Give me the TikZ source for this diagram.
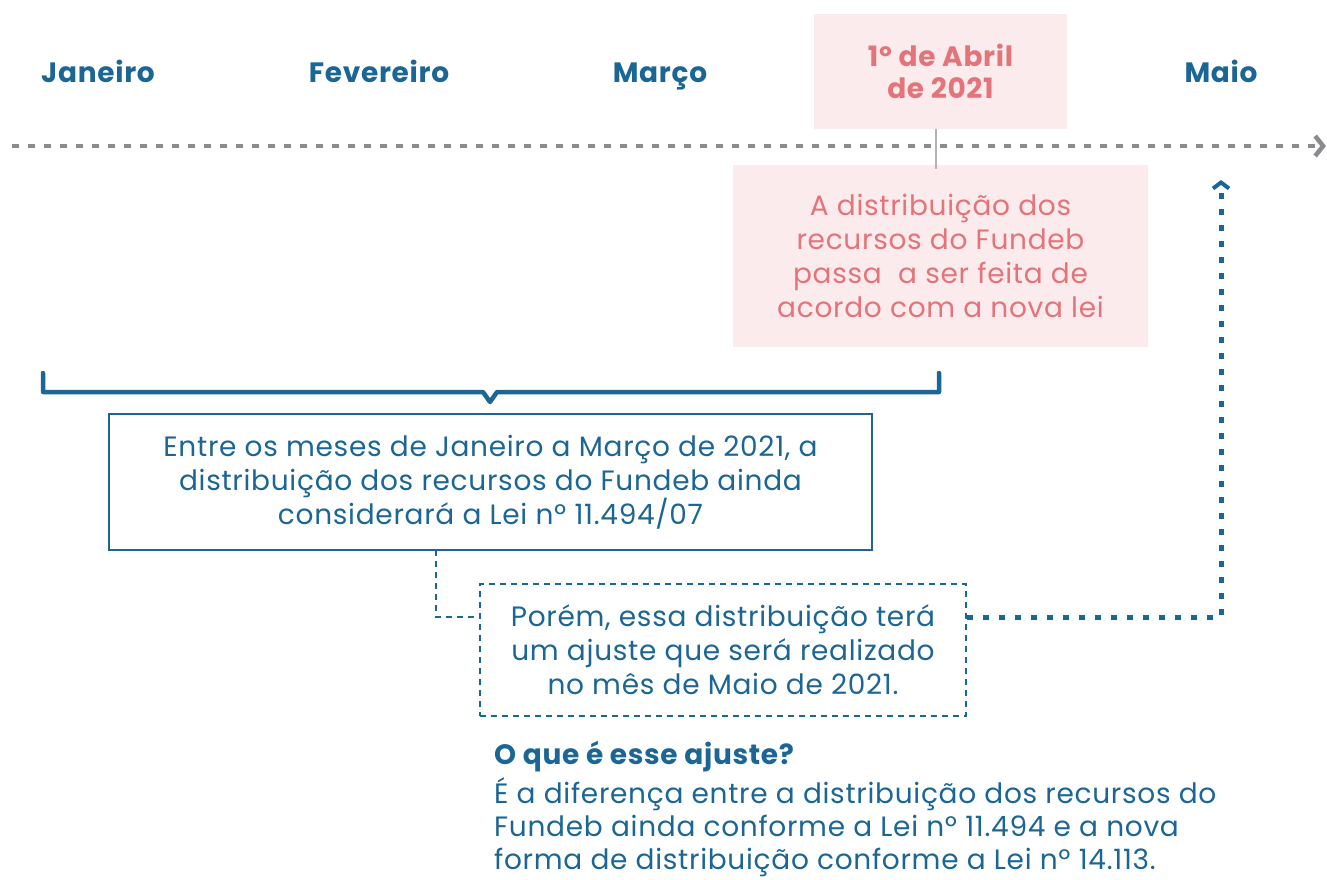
\documentclass[tikz,border=0pt]{standalone}
\usepackage{fontspec}
\setmainfont{Poppins}[LetterSpace=2.5]
\usetikzlibrary{arrows.meta,positioning}
\definecolor{azul}{HTML}{1B6694}
\definecolor{rosa}{HTML}{E2747A}
\definecolor{rosaclaro}{HTML}{FBEBEC}
\definecolor{cinza}{HTML}{8C8A8E}

\begin{document}
\begin{tikzpicture}[x=1pt, y=-1pt,
    mes/.style={font=\fontsize{28}{32}\selectfont\bfseries, text=azul, anchor=base},
    caixarosa/.style={fill=rosaclaro, text=rosa, align=center, inner sep=0pt},
    caixa/.style={draw=azul, text=azul, align=center, inner sep=0pt, font=\fontsize{28}{34}\selectfont},
    texto/.style={text=azul, align=left, inner sep=0pt, font=\fontsize{28}{33}\selectfont}]

    \useasboundingbox (0,0) rectangle (1327,879);

    % Months on the timeline
    \node[mes] (jan) at (98,82) {Janeiro};
    \node[mes] (fev) at (379,82) {Fevereiro};
    \node[mes] (mar) at (660,82) {Março};
    \node[mes] (mai) at (1221,82) {Maio};
    \node[caixarosa, minimum width=253pt, minimum height=115pt,
          font=\fontsize{28}{32}\selectfont\bfseries] (abril) at (940.5,71.5) {1º de Abril\\de 2021};

    % Timeline
    \coordinate (ini) at (12,146);
    \coordinate (fim) at (1326,146);
    \draw[cinza, line width=4pt, dash pattern=on 7pt off 9pt,
          -{Straight Barb[length=8pt, width=20pt, line width=4.5pt]}] (ini) -- (fim);

    \node[caixarosa, minimum width=415pt, minimum height=182pt,
          font=\fontsize{28}{34}\selectfont] (novalei) at (940.5,256)
          {A distribuição dos\\recursos do Fundeb\\passa\ \ a ser feita de\\acordo com a nova lei};
    \draw[black!30, line width=2pt] ([xshift=-5pt]abril.south) -- ([xshift=-5pt, yshift=-4pt]novalei.north);

    % Brace over January to March
    \coordinate (b1) at (43,373);
    \coordinate (b2) at (939,373);
    \draw[azul, line width=4.5pt, line cap=round, line join=round]
        (b1) |- (483,392) -- (490,402) -- (497,392) -| (b2);

    % Boxes
    \node[caixa, line width=2.5pt, minimum width=763pt, minimum height=136pt] (lei11494) at (490.5,482)
          {Entre os meses de Janeiro a Março de 2021, a\\distribuição dos recursos do Fundeb ainda\\considerará a Lei nº 11.494/07};
    \node[caixa, line width=2pt, dash pattern=on 6pt off 5pt, minimum width=486pt, minimum height=132pt] (ajuste) at (723,650)
          {Porém, essa distribuição terá\\um ajuste que será realizado\\no mês de Maio de 2021.};

    \coordinate (d1) at (436,550);
    \coordinate (d2) at (480,617);
    \draw[azul, line width=2pt, dash pattern=on 6pt off 5pt] (d1) |- (d2);

    \coordinate (e1) at (967,617);
    \coordinate (e2) at (1221,180);
    \draw[azul, line width=5pt, dash pattern=on 6pt off 10pt,
          -{Straight Barb[length=6pt, width=16pt, line width=4pt]}] (e1) -| (e2);

    % Explanation
    \node[texto, anchor=west, font=\fontsize{28}{33}\selectfont\bfseries] (pergunta) at (494,757) {O que é esse ajuste?};
    \node[texto, anchor=north west] (resposta) at (494,777)
          {É a diferença entre a distribuição dos recursos do\\Fundeb ainda conforme a Lei nº 11.494 e a nova\\forma de distribuição conforme a Lei nº 14.113.};

\end{tikzpicture}
\end{document}
